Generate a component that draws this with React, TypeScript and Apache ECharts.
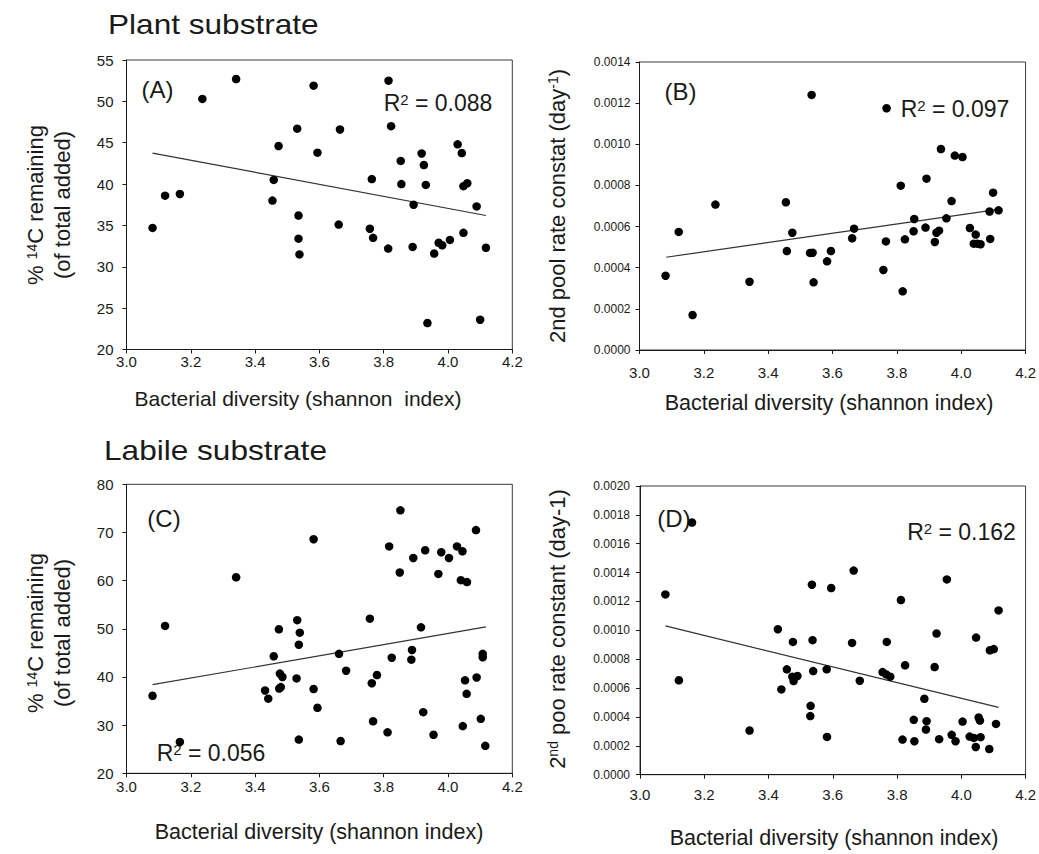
import { useEffect, useRef } from "react";
import * as echarts from "echarts";

const FONT = "'Liberation Sans', Arial, Helvetica, sans-serif";
const INK = "#1a1a1a";

// (A) Plant substrate: % 14C remaining vs bacterial diversity
const plantRemainX = [3.081, 3.120, 3.166, 3.236, 3.341, 3.458, 3.454, 3.473, 3.531, 3.535, 3.535, 3.538, 3.582, 3.594, 3.664, 3.660, 3.757, 3.763, 3.767, 3.814, 3.815, 3.823, 3.853, 3.855, 3.890, 3.893, 3.918, 3.925, 3.931, 3.936, 3.957, 3.971, 3.982, 4.006, 4.030, 4.043, 4.048, 4.048, 4.060, 4.089, 4.100, 4.118];
const plantRemainY = [34.7, 38.6, 38.8, 50.3, 52.7, 40.5, 38.0, 44.6, 46.7, 36.2, 33.4, 31.5, 51.9, 43.8, 46.6, 35.1, 34.6, 40.6, 33.5, 32.2, 52.5, 47.0, 42.8, 40.0, 32.4, 37.5, 43.7, 42.3, 39.9, 23.2, 31.6, 32.9, 32.6, 33.25, 44.8, 43.75, 34.1, 39.75, 40.1, 37.3, 23.6, 32.3];
const plantRemainFitX = [3.081, 4.118];
const plantRemainFitY = [43.75, 36.2];

// (B) Plant substrate: 2nd pool rate constant vs bacterial diversity
const plantRateX = [3.081, 3.122, 3.165, 3.236, 3.342, 3.455, 3.458, 3.475, 3.530, 3.538, 3.535, 3.541, 3.583, 3.595, 3.661, 3.667, 3.758, 3.766, 3.768, 3.812, 3.818, 3.825, 3.852, 3.854, 3.889, 3.892, 3.918, 3.923, 3.931, 3.937, 3.954, 3.970, 3.980, 4.004, 4.027, 4.039, 4.045, 4.050, 4.060, 4.088, 4.090, 4.099, 4.116];
const plantRateY = [0.000361, 0.000574, 0.00017, 0.000707, 0.000332, 0.000718, 0.000481, 0.00057, 0.000472, 0.000473, 0.00124, 0.000329, 0.000431, 0.000481, 0.000543, 0.00059, 0.000389, 0.000528, 0.001175, 0.000799, 0.000285, 0.000538, 0.000577, 0.000637, 0.000595, 0.000833, 0.000525, 0.00057, 0.00058, 0.000977, 0.00064, 0.000724, 0.000945, 0.000938, 0.000593, 0.000517, 0.000561, 0.000517, 0.000514, 0.000673, 0.00054, 0.000765, 0.000679];
const plantRateFitX = [3.083, 4.116];
const plantRateFitY = [0.000451, 0.000684];

// (C) Labile substrate: % 14C remaining vs bacterial diversity
const labileRemainX = [3.081, 3.120, 3.166, 3.341, 3.431, 3.441, 3.458, 3.474, 3.477, 3.485, 3.475, 3.480, 3.531, 3.539, 3.536, 3.529, 3.536, 3.582, 3.582, 3.594, 3.661, 3.666, 3.683, 3.757, 3.763, 3.767, 3.779, 3.812, 3.817, 3.825, 3.850, 3.852, 3.886, 3.888, 3.892, 3.916, 3.923, 3.929, 3.955, 3.970, 3.979, 4.003, 4.028, 4.040, 4.045, 4.046, 4.059, 4.053, 4.058, 4.087, 4.089, 4.102, 4.108, 4.108, 4.116];
const labileRemainY = [36.1, 50.6, 26.5, 60.7, 37.2, 35.5, 44.3, 49.9, 40.7, 40.0, 37.6, 37.9, 51.8, 49.2, 46.7, 39.7, 27.0, 68.6, 37.5, 33.6, 44.8, 26.7, 41.3, 52.1, 38.7, 30.8, 40.4, 28.5, 67.1, 44.0, 61.7, 74.6, 43.6, 45.6, 64.7, 50.3, 32.7, 66.3, 28.0, 61.4, 65.9, 64.7, 67.1, 60.1, 66.1, 29.8, 59.7, 39.3, 36.5, 70.5, 39.9, 31.3, 44.8, 44.1, 25.7];
const labileRemainFitX = [3.081, 4.118];
const labileRemainFitY = [38.4, 50.4];

// (D) Labile substrate: 2nd pool rate constant vs bacterial diversity
const labileRateX = [3.079, 3.121, 3.162, 3.341, 3.429, 3.440, 3.457, 3.476, 3.474, 3.478, 3.490, 3.531, 3.530, 3.535, 3.537, 3.539, 3.581, 3.582, 3.595, 3.660, 3.665, 3.684, 3.755, 3.766, 3.768, 3.779, 3.812, 3.817, 3.825, 3.852, 3.854, 3.885, 3.892, 3.890, 3.917, 3.923, 3.931, 3.955, 3.970, 3.982, 4.004, 4.026, 4.039, 4.045, 4.046, 4.054, 4.058, 4.060, 4.087, 4.089, 4.101, 4.108, 4.116];
const labileRateY = [0.001249, 0.000654, 0.001747, 0.000306, 0.001008, 0.000591, 0.00073, 0.00092, 0.000679, 0.000649, 0.000684, 0.000477, 0.000406, 0.001316, 0.000932, 0.000718, 0.00073, 0.000262, 0.001293, 0.000913, 0.001414, 0.000651, 0.000711, 0.000695, 0.00092, 0.000679, 0.00121, 0.000243, 0.000758, 0.00038, 0.000232, 0.000526, 0.000371, 0.000313, 0.000746, 0.000978, 0.000246, 0.001353, 0.000276, 0.000232, 0.000368, 0.000264, 0.000255, 0.000192, 0.00095, 0.000396, 0.000375, 0.00026, 0.000178, 0.000862, 0.00087, 0.000352, 0.001138];
const labileRateFitX = [3.079, 4.116];
const labileRateFitY = [0.001031, 0.000466];

// Axis ranges: [min, max, interval]
const diversityRange = [3.0, 4.2, 0.2];
const plantRemainRange = [20, 55, 5];
const rateRangeB = [0, 0.0014, 0.0002];
const labileRemainRange = [20, 80, 10];
const rateRangeD = [0, 0.002, 0.0002];

const panelTitles = ["Plant substrate", "Labile substrate"];
const panelLetters = ["(A)", "(B)", "(C)", "(D)"];
const rSquared = ["0.088", "0.097", "0.056", "0.162"];
const xName = "Bacterial diversity (shannon index)";
const xNameA = "Bacterial diversity (shannon  index)";

const zip = (xs: number[], ys: number[]) => xs.map((x, i) => [x, ys[i]]);

const panels = [
  { xs: plantRemainX, ys: plantRemainY, fx: plantRemainFitX, fy: plantRemainFitY, range: plantRemainRange, digits: 0,
    grid: { left: 126.5, top: 60, width: 385.8, height: 289.5 }, xMargin: 4, yMargin: 13, yFont: 15 },
  { xs: plantRateX, ys: plantRateY, fx: plantRateFitX, fy: plantRateFitY, range: rateRangeB, digits: 4,
    grid: { left: 639.5, top: 62, width: 386.5, height: 288 }, xMargin: 15, yMargin: 9, yFont: 12 },
  { xs: labileRemainX, ys: labileRemainY, fx: labileRemainFitX, fy: labileRemainFitY, range: labileRemainRange, digits: 0,
    grid: { left: 126.5, top: 484.3, width: 385.8, height: 289 }, xMargin: 6, yMargin: 13, yFont: 15 },
  { xs: labileRateX, ys: labileRateY, fx: labileRateFitX, fy: labileRateFitY, range: rateRangeD, digits: 4,
    grid: { left: 640, top: 486, width: 386, height: 288.7 }, xMargin: 12, yMargin: 10, yFont: 12 },
];

const sup = { fontFamily: FONT, fill: INK, verticalAlign: "top" };

function label(x: number, y: number, text: string, fontSize: number, extra: any = {}, styleExtra: any = {}) {
  return {
    type: "text",
    x,
    y,
    silent: true,
    ...extra,
    style: {
      text,
      fontSize,
      fontFamily: FONT,
      fill: INK,
      align: "center",
      verticalAlign: "middle",
      rich: { sup: { ...sup, fontSize: Math.round(fontSize * 0.64) } },
      ...styleExtra,
    },
  };
}

const up = { rotation: Math.PI / 2 };

const graphic = [
  // section headings
  label(108, 24, panelTitles[0], 27, { scaleX: 1.17 }, { align: "left" }),
  label(104, 450, panelTitles[1], 27, { scaleX: 1.17 }, { align: "left" }),
  // panel letters
  label(157.5, 89, panelLetters[0], 24),
  label(680.5, 91, panelLetters[1], 24),
  label(164, 518.5, panelLetters[2], 24),
  label(674, 518, panelLetters[3], 24),
  // coefficients of determination
  label(438, 103, `R{sup|2} = ${rSquared[0]}`, 23),
  label(955, 109, `R{sup|2} = ${rSquared[1]}`, 23),
  label(211, 753, `R{sup|2} = ${rSquared[2]}`, 23),
  label(961.5, 532, `R{sup|2} = ${rSquared[3]}`, 23),
  // x-axis titles
  label(298, 398, xNameA, 21),
  label(829, 403, xName, 21.5),
  label(319, 832, xName, 21.5),
  label(834, 838, xName, 21.5),
  // y-axis titles
  label(35.5, 205, "% {sup|14}C remaining", 22, up),
  label(62, 205, "(of total added)", 22, up),
  label(35.5, 633, "% {sup|14}C remaining", 22, up),
  label(62, 633, "(of total added)", 22, up),
  label(557, 206, "2nd pool rate constat (day{sup|-1})", 22, up),
  label(557, 629, "2{sup|nd} poo rate constant (day-1)", 22, up),
];

const option: any = {
  animation: false,
  backgroundColor: "#ffffff",
  textStyle: { fontFamily: FONT },
  grid: panels.map((p) => ({ ...p.grid, show: true, borderColor: "#3a3a3a", borderWidth: 1, containLabel: false })),
  xAxis: panels.map((p, i) => ({
    type: "value",
    gridIndex: i,
    min: diversityRange[0],
    max: diversityRange[1],
    interval: diversityRange[2],
    axisLine: { show: true, onZero: false, lineStyle: { color: INK, width: 1 } },
    axisTick: { show: true, inside: false, length: 4, lineStyle: { color: INK } },
    axisLabel: { margin: p.xMargin, fontSize: 15, fontFamily: FONT, color: INK, formatter: (v: number) => v.toFixed(1) },
    splitLine: { show: false },
  })),
  yAxis: panels.map((p, i) => ({
    type: "value",
    gridIndex: i,
    min: p.range[0],
    max: p.range[1],
    interval: p.range[2],
    axisLine: { show: true, onZero: false, lineStyle: { color: INK, width: 1 } },
    axisTick: { show: true, inside: false, length: 4, lineStyle: { color: INK } },
    axisLabel: { margin: p.yMargin, fontSize: p.yFont, fontFamily: FONT, color: INK, formatter: (v: number) => v.toFixed(p.digits) },
    splitLine: { show: false },
  })),
  series: panels.flatMap((p, i) => [
    {
      type: "line",
      xAxisIndex: i,
      yAxisIndex: i,
      data: zip(p.fx, p.fy),
      symbol: "none",
      silent: true,
      lineStyle: { color: "#333333", width: 1.2 },
      z: 2,
    },
    {
      type: "scatter",
      xAxisIndex: i,
      yAxisIndex: i,
      data: zip(p.xs, p.ys),
      symbol: "circle",
      symbolSize: 8.5,
      silent: true,
      itemStyle: { color: "#000000", opacity: 1 },
      z: 3,
    },
  ]),
  graphic,
};

export default function App() {
  const ref = useRef<HTMLDivElement>(null);
  useEffect(() => {
    if (!ref.current) return;
    const chart = echarts.init(ref.current, undefined, { renderer: "svg", width: 1039, height: 854 });
    chart.setOption(option);
    return () => chart.dispose();
  }, []);
  return (
    <div
      ref={ref}
      style={{ position: "fixed", left: 0, top: 0, width: 1039, height: 854, background: "#ffffff" }}
    />
  );
}
